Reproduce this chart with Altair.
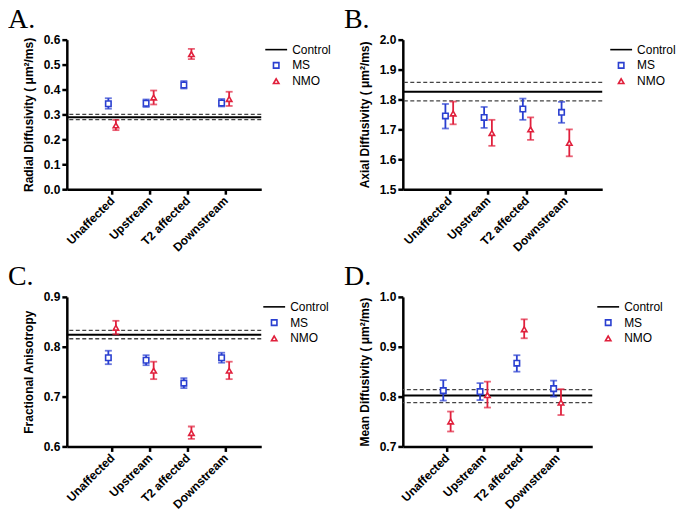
import altair as alt
import pandas as pd

categories = ["Unaffected", "Upstream", "T2 affected", "Downstream"]
legend_items = ["Control", "MS", "NMO"]

# Panel A: Radial diffusivity
A_ms = [0.343, 0.345, 0.418, 0.346]
A_ms_lo = [0.323, 0.330, 0.404, 0.332]
A_ms_hi = [0.365, 0.360, 0.434, 0.362]
A_nmo = [0.256, 0.368, 0.542, 0.362]
A_nmo_lo = [0.237, 0.340, 0.522, 0.334]
A_nmo_hi = [0.278, 0.396, 0.563, 0.391]
A_ctrl = [0.289, 0.279, 0.300]  # mean, lower, upper
A_ticks = [0.0, 0.1, 0.2, 0.3, 0.4, 0.5, 0.6]

# Panel B: Axial diffusivity
B_ms = [1.745, 1.740, 1.768, 1.757]
B_ms_lo = [1.703, 1.705, 1.732, 1.722]
B_ms_hi = [1.785, 1.775, 1.803, 1.792]
B_nmo = [1.753, 1.688, 1.700, 1.655]
B_nmo_lo = [1.717, 1.645, 1.665, 1.610]
B_nmo_hi = [1.793, 1.732, 1.740, 1.700]
B_ctrl = [1.826, 1.795, 1.857]
B_ticks = [1.5, 1.6, 1.7, 1.8, 1.9, 2.0]

# Panel C: Fractional anisotropy
C_ms = [0.778, 0.773, 0.727, 0.778]
C_ms_lo = [0.765, 0.763, 0.717, 0.768]
C_ms_hi = [0.792, 0.783, 0.737, 0.788]
C_nmo = [0.838, 0.752, 0.627, 0.752]
C_nmo_lo = [0.825, 0.735, 0.615, 0.735]
C_nmo_hi = [0.852, 0.770, 0.640, 0.770]
C_ctrl = [0.824, 0.816, 0.833]
C_ticks = [0.6, 0.7, 0.8, 0.9]

# Panel D: Mean diffusivity
D_ms = [0.812, 0.810, 0.867, 0.816]
D_ms_lo = [0.792, 0.793, 0.850, 0.800]
D_ms_hi = [0.833, 0.827, 0.883, 0.832]
D_nmo = [0.750, 0.803, 0.935, 0.788]
D_nmo_lo = [0.730, 0.778, 0.917, 0.763]
D_nmo_hi = [0.770, 0.830, 0.955, 0.815]
D_ctrl = [0.802, 0.788, 0.814]
D_ticks = [0.7, 0.8, 0.9, 1.0]

BLUE = "#2a3fd0"
RED = "#e0203c"
FONT = "Liberation Sans"
COL_STEP = 342
ROW_STEP = 258


def panel(letter, ytitle, ticks, ms, ms_lo, ms_hi, nmo, nmo_lo, nmo_hi, ctrl, width, leg_gap):
    p = letter[0]  # per-panel key prefix so each panel keeps its own legend
    rows = []
    for i, c in enumerate(categories):
        rows.append({"idx": i + 1, "cat": c, "group": "MS", "key": p + "MS",
                     "mean": ms[i], "lo": ms_lo[i], "hi": ms_hi[i]})
        rows.append({"idx": i + 1, "cat": c, "group": "NMO", "key": p + "NMO",
                     "mean": nmo[i], "lo": nmo_lo[i], "hi": nmo_hi[i]})
    df = pd.DataFrame(rows)
    ctrl_df = pd.DataFrame({"v": [ctrl[0]]})
    ci_df = pd.DataFrame({"v": [ctrl[1], ctrl[2]]})

    yscale = alt.Scale(domain=[ticks[0], ticks[-1]], nice=False, zero=False)
    yaxis = alt.Axis(values=ticks, format=".1f", title=ytitle, labelPadding=2, titlePadding=8)
    xscale = alt.Scale(domain=[-0.2, 4.95], nice=False, zero=False)
    xaxis = alt.Axis(values=[1, 2, 3, 4], title=None, labelOverlap=False,
                     labelExpr="['','Unaffected','Upstream','T2 affected','Downstream'][datum.value]",
                     labelAngle=315, labelAlign="right", labelBaseline="middle", labelPadding=4)
    xenc = alt.X("xpos:Q", scale=xscale, axis=xaxis)
    dom = [p + s for s in legend_items]
    sscale = alt.Scale(domain=dom, range=["black", BLUE, RED])
    shscale = alt.Scale(domain=dom, range=["M-4,0H4", "square", "triangle-up"])
    leg = alt.Legend(title=None, orient="none", legendX=width + leg_gap, legendY=4,
                     labelExpr="substring(datum.label, 1)",
                     labelFont=FONT, labelFontSize=12, labelFontWeight="normal", labelColor="black",
                     symbolStrokeWidth=1.6, symbolFillColor="white", symbolSize=30,
                     labelOffset=10, rowPadding=3.8, padding=0)

    solid = alt.Chart(ctrl_df).mark_rule(color="black", strokeWidth=2).encode(
        y=alt.Y("v:Q", scale=yscale, axis=yaxis))
    dashed = alt.Chart(ci_df).mark_rule(color="#444444", strokeWidth=1.3, strokeDash=[4, 2.5]).encode(
        y=alt.Y("v:Q", scale=yscale, axis=yaxis))

    base = alt.Chart(df).transform_calculate(
        xpos="datum.idx + (datum.group == 'MS' ? -0.1 : 0.1)")
    layers = [solid, dashed]
    for g, c in [("MS", BLUE), ("NMO", RED)]:
        gb = base.transform_filter(alt.datum.group == g)
        layers.append(gb.mark_rule(strokeWidth=1.8, color=c).encode(
            x=xenc, y=alt.Y("lo:Q", scale=yscale, axis=yaxis), y2="hi:Q"))
        layers.append(gb.mark_tick(orient="horizontal", size=7, thickness=1.8, color=c).encode(
            x=xenc, y=alt.Y("lo:Q", scale=yscale, axis=yaxis)))
        layers.append(gb.mark_tick(orient="horizontal", size=7, thickness=1.8, color=c).encode(
            x=xenc, y=alt.Y("hi:Q", scale=yscale, axis=yaxis)))
    pts = base.mark_point(filled=False, fill="white", fillOpacity=1, size=30, strokeWidth=1.6, opacity=1).encode(
        x=xenc, y=alt.Y("mean:Q", scale=yscale, axis=yaxis),
        stroke=alt.Stroke("key:N", scale=sscale, legend=leg),
        shape=alt.Shape("key:N", scale=shscale, legend=leg))
    layers.append(pts)

    return alt.layer(*layers).properties(
        width=width, height=150,
        title=alt.TitleParams(letter, font="Liberation Serif", fontSize=28, fontWeight="normal",
                              color="black", anchor="start", frame="group", dx=-59, offset=0))


pA = panel("A.", "Radial Diffusivity ( μm²/ms)", A_ticks, A_ms, A_ms_lo, A_ms_hi, A_nmo, A_nmo_lo, A_nmo_hi, A_ctrl, 195, 9)
pB = panel("B.", "Axial Diffusivity ( μm²/ms)", B_ticks, B_ms, B_ms_lo, B_ms_hi, B_nmo, B_nmo_lo, B_nmo_hi, B_ctrl, 200, 13)
pC = panel("C.", "Fractional Anisotropy", C_ticks, C_ms, C_ms_lo, C_ms_hi, C_nmo, C_nmo_lo, C_nmo_hi, C_ctrl, 195, 7)
pD = panel("D.", "Mean Diffusivity ( μm²/ms)", D_ticks, D_ms, D_ms_lo, D_ms_hi, D_nmo, D_nmo_lo, D_nmo_hi, D_ctrl, 190, 10)

chart = alt.concat(pA, pB, pC, pD, columns=2, spacing={"row": ROW_STEP - 150, "column": COL_STEP - 200},
                   bounds="flush").resolve_scale(
    stroke="independent", shape="independent"
).resolve_legend(
    stroke="independent", shape="independent"
).properties(
    padding={"left": 0, "top": -3, "right": 0, "bottom": 0}
).configure_axis(
    domainWidth=2.5, domainColor="black", tickColor="black", tickWidth=2.5, tickSize=5,
    labelFont=FONT, labelFontSize=12, labelFontWeight="bold", labelColor="black",
    titleFont=FONT, titleFontSize=12, titleFontWeight="bold", titleColor="black", grid=False
).configure_view(strokeOpacity=0).configure_title(fontWeight="normal")

chart.save("out.html", embed_options={"renderer": "svg", "actions": False})
